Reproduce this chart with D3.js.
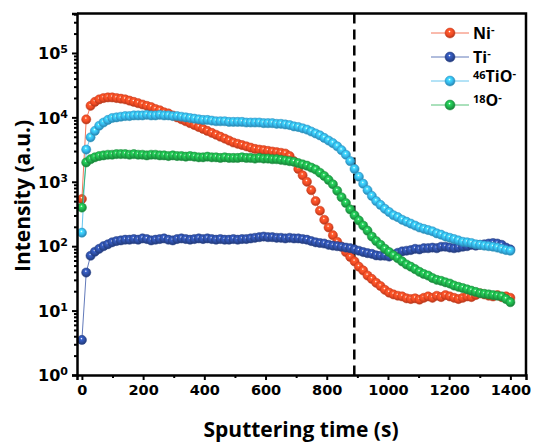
<!DOCTYPE html>
<html>
<head>
<meta charset="utf-8">
<script src="https://cdn.jsdelivr.net/npm/d3@7"></script>
<style>
  body { margin: 0; background: #fff; }
  text { font-family: "Open Sans", "DejaVu Sans", sans-serif; font-weight: 700; }
  .tick text, .ylab { font-family: "DejaVu Sans", sans-serif; }
</style>
</head>
<body>
<svg id="chart" width="533" height="442"></svg>
<script>
// sampling step of the depth profile (s)
const timeStep = 14.14;

const niValues = [540, 9300, 15100, 17400, 19000, 19950, 20400, 20400, 19950, 19500,
  19050, 18200, 17400, 16600, 15850, 15100, 14450, 13500, 12900, 12000,
  11500, 10700, 10000, 9330, 8710, 8130, 7590, 7080, 6610, 6170,
  5750, 5370, 5010, 4680, 4370, 4070, 3890, 3720, 3550, 3390,
  3240, 3160, 3090, 3020, 2950, 2880, 2820, 2750, 2510, 2090,
  1580, 1260, 1000, 741, 501, 355, 257, 195, 148, 117,
  98, 81, 68, 58, 48, 42, 35, 31, 27, 24,
  21, 19, 17.8, 17.0, 16.6, 15.5, 15.1, 15.5, 14.8, 15.8,
  16.6, 15.8, 17.0, 16.2, 17.4, 16.6, 15.8, 15.1, 15.8, 16.6,
  16.2, 17.4, 18.6, 17.8, 17.0, 16.6, 17.4, 16.2, 16.6, 15.8];

const tiValues = [3.5, 39, 71, 82, 91, 100, 107, 115, 120, 123,
  126, 126, 129, 126, 132, 129, 123, 126, 129, 132,
  126, 123, 129, 132, 129, 126, 129, 132, 129, 132,
  129, 126, 129, 126, 126, 129, 126, 129, 129, 132,
  135, 138, 141, 138, 138, 135, 135, 132, 135, 132,
  132, 129, 126, 120, 115, 112, 110, 105, 102, 100,
  98, 95, 93, 89, 85, 81, 78, 76, 72, 71,
  71, 69, 74, 79, 83, 85, 87, 91, 89, 93,
  93, 95, 93, 98, 98, 95, 93, 95, 98, 100,
  105, 102, 105, 107, 110, 112, 110, 105, 95, 89];

const tioValues = [162, 3160, 4900, 6170, 7410, 8320, 9120, 9770, 10000, 10230,
  10470, 10470, 10720, 10720, 10720, 10960, 10720, 10720, 10960, 10720,
  10720, 10470, 10470, 10230, 10000, 9770, 9550, 9330, 9120, 9120,
  8910, 8710, 8710, 8710, 8510, 8510, 8510, 8510, 8320, 8320,
  8320, 8320, 8130, 8130, 8130, 7940, 7940, 7760, 7590, 7240,
  7080, 6760, 6460, 6030, 5620, 5250, 4790, 4370, 3980, 3550,
  3090, 2630, 2090, 1585, 1200, 933, 741, 603, 501, 437,
  380, 339, 302, 282, 257, 240, 224, 209, 195, 186,
  178, 170, 158, 151, 141, 135, 129, 123, 117, 115,
  112, 107, 105, 102, 100, 98, 95, 91, 87, 85];

const oValues = [398, 1995, 2240, 2400, 2510, 2570, 2630, 2630, 2690, 2690,
  2690, 2630, 2690, 2630, 2630, 2570, 2630, 2630, 2570, 2570,
  2510, 2570, 2510, 2510, 2455, 2510, 2455, 2400, 2400, 2455,
  2400, 2400, 2344, 2400, 2344, 2344, 2344, 2400, 2344, 2344,
  2290, 2344, 2290, 2290, 2240, 2240, 2190, 2140, 2090, 2040,
  1950, 1860, 1780, 1660, 1550, 1380, 1230, 1070, 912, 724,
  575, 468, 372, 302, 251, 209, 174, 141, 120, 105,
  91, 81, 72, 65, 58, 52, 48, 44, 40, 37,
  35, 32, 30, 29, 27.5, 26.3, 24.5, 23.4, 22.4, 21.4,
  20.4, 19.5, 18.6, 18.2, 17.8, 17.4, 17.0, 16.6, 15.1, 13.5];

const seriesKeys = ["ni", "ti", "tio", "o"];
const seriesColors = ["#f04a24", "#2e4ea3", "#35b3e8", "#1fae4b"];
const legendPre = ["", "", "46", "18"];
const legendMain = ["Ni", "Ti", "TiO", "O"];

const xTicks = [0, 200, 400, 600, 800, 1000, 1200, 1400];
const xMinorTicks = [100, 300, 500, 700, 900, 1100, 1300];
const yTicks = [1, 10, 100, 1000, 10000, 100000];
const yExponents = ["0", "1", "2", "3", "4", "5"];
const markerTime = 890;   // dashed line (s)

const allValues = [niValues, tiValues, tioValues, oValues];
const times = niValues.map((d, i) => i * timeStep);

const svg = d3.select("#chart");
const margin = { left: 77, right: 7, top: 13.5, bottom: 67 };
const W = 533, H = 442;

const x = d3.scaleLinear().domain([-16, 1451]).range([margin.left, W - margin.right]);
const y = d3.scaleLog().domain([1, 410000]).range([H - margin.bottom, margin.top]);

// gradients for the shiny ball markers
const defs = svg.append("defs");
seriesColors.forEach((c, i) => {
  const g = defs.append("radialGradient")
    .attr("id", "ball" + i)
    .attr("cx", "45%").attr("cy", "40%").attr("r", "60%")
    .attr("fx", "45%").attr("fy", "35%");
  g.append("stop").attr("offset", "0%").attr("stop-color", "#ffffff");
  g.append("stop").attr("offset", "22%").attr("stop-color", d3.color(c).brighter(0.6));
  g.append("stop").attr("offset", "60%").attr("stop-color", c);
  g.append("stop").attr("offset", "100%").attr("stop-color", d3.color(c).darker(0.9));
});

// dashed marker line
svg.append("line")
  .attr("x1", x(markerTime)).attr("x2", x(markerTime))
  .attr("y1", y.range()[1]).attr("y2", y.range()[0])
  .attr("stroke", "#000")
  .attr("stroke-width", 2.5)
  .attr("stroke-dasharray", "10,6");

const line = d3.line()
  .x((d, i) => x(times[i]))
  .y(d => y(d));

// series
allValues.forEach((vals, s) => {
  const g = svg.append("g").attr("class", seriesKeys[s]);
  g.append("path")
    .attr("d", line(vals))
    .attr("fill", "none")
    .attr("stroke", seriesColors[s])
    .attr("stroke-opacity", 0.75)
    .attr("stroke-width", 1);
  g.selectAll("circle")
    .data(vals)
    .enter()
    .append("circle")
    .attr("cx", (d, i) => x(times[i]))
    .attr("cy", d => y(d))
    .attr("r", 4.6)
    .attr("fill", "url(#ball" + s + ")")
    .attr("stroke", d3.color(seriesColors[s]).darker(0.5))
    .attr("stroke-width", 0.5);
});

// axes
const xAxis = svg.append("g")
  .attr("transform", "translate(0," + y.range()[0] + ")")
  .call(d3.axisBottom(x).tickValues(xTicks).tickSize(5).tickPadding(5).tickFormat(d3.format("d")));
svg.append("g")
  .attr("transform", "translate(0," + y.range()[0] + ")")
  .call(d3.axisBottom(x).tickValues(xMinorTicks).tickSize(3).tickFormat(""))
  .call(g => g.select(".domain").remove());

const yAxis = svg.append("g")
  .attr("transform", "translate(" + x.range()[0] + ",0)")
  .call(d3.axisLeft(y).tickValues(yTicks).tickSize(5).tickFormat(""));

const minor = [];
yTicks.forEach(t => { for (let k = 2; k <= 9; k++) if (t * k < y.domain()[1]) minor.push(t * k); });
svg.append("g")
  .attr("transform", "translate(" + x.range()[0] + ",0)")
  .call(d3.axisLeft(y).tickValues(minor).tickSize(3).tickFormat(""))
  .call(g => g.select(".domain").remove());

// y tick labels 10^n
yAxis.selectAll(".tick").each(function (d, i) {
  const t = d3.select(this).append("text")
    .attr("class", "ylab")
    .attr("x", -9).attr("dy", "0.36em")
    .attr("fill", "#000")
    .attr("text-anchor", "end")
    .style("font-size", "16px");
  t.append("tspan").text("10");
  t.append("tspan").attr("dy", "-0.55em").style("font-size", "11px").text(yExponents[i]);
});

xAxis.selectAll(".tick text").style("font-size", "14.5px").attr("fill", "#000");

svg.selectAll(".domain").attr("stroke-width", 2.5);
svg.selectAll(".tick line").attr("stroke-width", 2);

// top and right frame
svg.append("path")
  .attr("d", "M" + x.range()[0] + "," + y.range()[1] + "H" + x.range()[1] + "V" + y.range()[0])
  .attr("fill", "none")
  .attr("stroke", "#000")
  .attr("stroke-width", 2.5);

// axis titles
svg.append("text")
  .attr("x", 301)
  .attr("y", 437)
  .attr("text-anchor", "middle")
  .style("font-size", "21px")
  .text("Sputtering time (s)");

svg.append("text")
  .attr("transform", "translate(30,196) rotate(-90)")
  .attr("text-anchor", "middle")
  .style("font-size", "21px")
  .text("Intensity (a.u.)");

// legend
const legend = svg.append("g").attr("transform", "translate(431,33)");
seriesKeys.forEach((k, i) => {
  const row = legend.append("g").attr("transform", "translate(0," + i * 24 + ")");
  row.append("line")
    .attr("x1", 0).attr("x2", 38)
    .attr("stroke", seriesColors[i]).attr("stroke-opacity", 0.75).attr("stroke-width", 1);
  row.append("circle")
    .attr("cx", 19).attr("r", 5)
    .attr("fill", "url(#ball" + i + ")")
    .attr("stroke", d3.color(seriesColors[i]).darker(0.5))
    .attr("stroke-width", 0.5);
  const t = row.append("text").attr("x", 42).attr("dy", "0.36em").style("font-size", "16px");
  if (legendPre[i]) t.append("tspan").attr("dy", "-0.2em").style("font-size", "11px").text(legendPre[i]);
  t.append("tspan").attr("dy", legendPre[i] ? "0.2em" : null).text(legendMain[i]);
  t.append("tspan").attr("dy", "-0.5em").style("font-size", "11px").text("-");
});
</script>
</body>
</html>
